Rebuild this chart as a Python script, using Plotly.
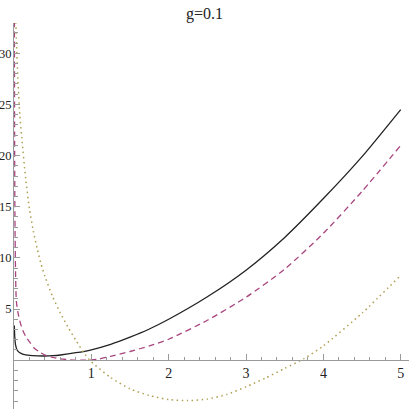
import plotly.graph_objects as go

### values
x_solid = [0.004, 0.01, 0.02, 0.04, 0.07, 0.12, 0.2, 0.3, 0.4, 0.5, 0.6, 0.8, 1.0,
           1.25, 1.5, 1.75, 2.0, 2.5, 3.0, 3.5, 4.0, 4.5, 5.0]
y_solid = [3.4, 2.3, 1.5, 1.0, 0.75, 0.58, 0.47, 0.42, 0.41, 0.44, 0.51, 0.73, 1.02,
           1.55, 2.25, 3.05, 4.0, 6.2, 8.8, 12.0, 15.8, 19.9, 24.5]

x_dash = [0.004, 0.008, 0.012, 0.02, 0.03, 0.05, 0.08, 0.12, 0.16, 0.21, 0.26, 0.34,
          0.42, 0.5, 0.6, 0.7, 0.8, 0.9, 1.0, 1.1, 1.25, 1.5, 1.75, 2.0, 2.5, 3.0,
          3.5, 4.0, 4.5, 5.0]
y_dash = [40.0, 22.0, 14.0, 8.5, 5.8, 4.7, 3.7, 2.8, 2.2, 1.7, 1.2, 0.75,
          0.45, 0.27, 0.13, 0.05, 0.01, 0.0, 0.03, 0.12, 0.38, 0.85, 1.4, 2.05, 3.9, 6.15,
          8.9, 12.4, 16.5, 21.0]

x_dot = [0.015, 0.03, 0.05, 0.075, 0.1, 0.15, 0.2, 0.25, 0.3, 0.35, 0.4, 0.5, 0.6, 0.7,
         0.8, 0.9, 1.0, 1.25, 1.5, 1.75, 2.0, 2.25, 2.5, 2.75, 3.0, 3.25, 3.5, 3.75,
         4.0, 4.5, 5.0]
y_dot = [35.0, 31.5, 27.5, 24.0, 21.8, 17.8, 14.8, 12.6, 10.9, 9.4, 8.2, 6.2, 4.6, 3.2,
         1.95, 0.75, -0.15, -1.7, -2.8, -3.45, -3.85, -3.95, -3.8, -3.35, -2.6, -1.75, -0.8, 0.15,
         1.4, 4.6, 8.3]

x_ticks = [1, 2, 3, 4, 5]
y_ticks = [5, 10, 15, 20, 25, 30]

y_lo, y_hi = -4.77, 32.96
serif = "Liberation Serif"
axis_grey = "#9a9a9a"

fig = go.Figure()
fig.add_trace(go.Scatter(x=x_solid, y=y_solid, mode="lines",
                         line=dict(color="#222222", width=1.3, shape="spline", smoothing=0.6)))
fig.add_trace(go.Scatter(x=x_dash, y=y_dash, mode="lines",
                         line=dict(color="#a8457f", width=1.3, dash="6px,4px",
                                   shape="spline", smoothing=0.6)))
fig.add_trace(go.Scatter(x=x_dot, y=y_dot, mode="lines",
                         line=dict(color="#b0a052", width=1.5, dash="1.5px,3.5px",
                                   shape="spline", smoothing=0.6)))

### axes crossing at the origin, Mathematica style
fig.update_xaxes(range=[0, 5.107], anchor="free", position=-y_lo / (y_hi - y_lo),
                 automargin=False,
                 showline=True, linecolor=axis_grey, linewidth=1,
                 showgrid=False, zeroline=False,
                 tickmode="array", tickvals=x_ticks, ticks="inside", ticklen=6,
                 tickcolor=axis_grey, tickwidth=1,
                 minor=dict(tickmode="linear", tick0=0, dtick=0.2, ticks="inside",
                            ticklen=3.5, tickcolor=axis_grey, tickwidth=1),
                 tickfont=dict(family=serif, size=14, color="#222222"))
fig.update_yaxes(range=[y_lo, y_hi], automargin=False,
                 showline=True, linecolor=axis_grey, linewidth=1,
                 showgrid=False, zeroline=False,
                 tickmode="array", tickvals=y_ticks, ticks="inside", ticklen=6,
                 tickcolor=axis_grey, tickwidth=1, ticklabelstandoff=-1,
                 minor=dict(tickmode="linear", tick0=0, dtick=1, ticks="inside",
                            ticklen=3.5, tickcolor=axis_grey, tickwidth=1),
                 tickfont=dict(family=serif, size=12.5, color="#222222"))

fig.update_layout(width=409, height=409,
                  margin=dict(l=14, r=0, t=23, b=0),
                  paper_bgcolor="white", plot_bgcolor="white",
                  showlegend=False,
                  title=dict(text="g=0.1", x=0.5, xanchor="center", y=0.968, yanchor="middle",
                             font=dict(family=serif, size=16, color="#222222")))

### drop the default page margin so the figure sits at the window's corner
fig.write_html("out.html", config={"displayModeBar": False},
               post_script="document.body.style.margin='0px';")
